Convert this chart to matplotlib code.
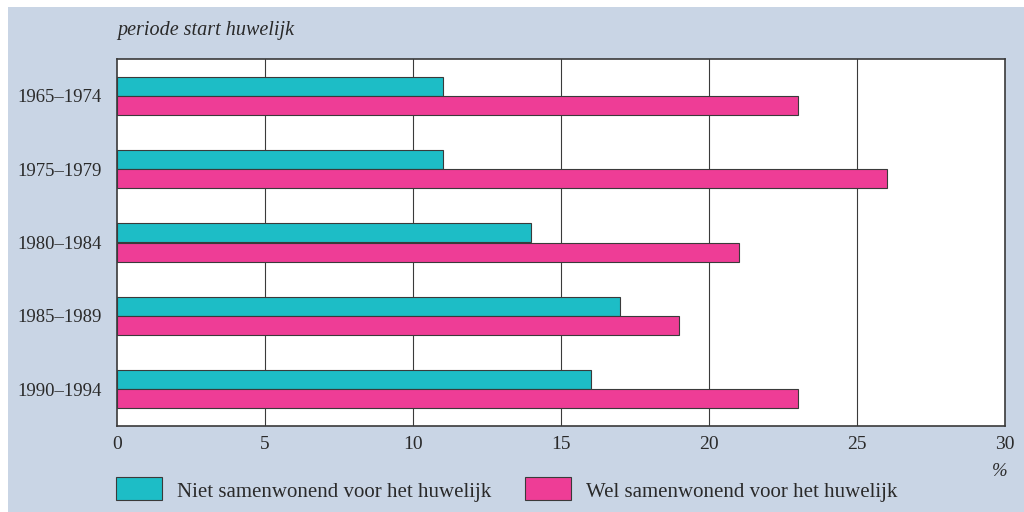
import matplotlib
matplotlib.use("Agg")
import matplotlib.pyplot as plt
from matplotlib.patches import Rectangle
import numpy as np

perioden = ["1965–1974", "1975–1979", "1980–1984", "1985–1989", "1990–1994"]
niet_samen = [11, 11, 14, 17, 16]
wel_samen = [23, 26, 21, 19, 23]
x_ticks = [0, 5, 10, 15, 20, 25, 30]

TEAL = "#1dbdc6"
PINK = "#ee3d96"
ACHTERGROND = "#c9d5e5"
LIJN = "#3a3a3a"
TEKST = "#2a2a2a"
FS = 14.5

plt.rcParams["font.family"] = ["Liberation Serif", "DejaVu Serif"]

fig = plt.figure(figsize=(10.24, 5.12), dpi=100, facecolor="white")
fig.patches.append(Rectangle((8 / 1024, 0), 1016 / 1024, 505 / 512,
                             transform=fig.transFigure, facecolor=ACHTERGROND,
                             edgecolor="none", zorder=-10))

ax = fig.add_axes([117 / 1024, 86 / 512, 888 / 1024, 367 / 512])
ax.set_facecolor("white")

y = np.arange(len(perioden))
h = 0.26
ax.barh(y - h / 2, niet_samen, height=h, color=TEAL, edgecolor=LIJN, linewidth=0.8, zorder=3)
ax.barh(y + h / 2, wel_samen, height=h, color=PINK, edgecolor=LIJN, linewidth=0.8, zorder=3)

ax.set_xlim(0, 30)
ax.set_ylim(4.5, -0.5)
ax.set_xticks(x_ticks)
ax.set_yticks(y)
ax.set_yticklabels(perioden)
ax.tick_params(axis="both", length=0, labelsize=FS - 0.5, colors=TEKST)
ax.tick_params(axis="y", labelsize=FS - 1, pad=11)
ax.tick_params(axis="x", pad=7)
for v in x_ticks[1:-1]:
    ax.axvline(v, color=LIJN, linewidth=0.8, zorder=1)
for s in ax.spines.values():
    s.set_color(LIJN)
    s.set_linewidth(1.2)

fig.text(117 / 1024, 1 - 31 / 512, "periode start huwelijk", fontsize=FS,
         style="italic", va="center", ha="left", color=TEKST)
fig.text(1008 / 1024, 1 - 471 / 512, "%", fontsize=FS - 1, style="italic",
         va="center", ha="right", color=TEKST)

# legenda onder de grafiek
leg_y = 1 - 500 / 512
leg_h = 23 / 512
fig.patches.append(Rectangle((116 / 1024, leg_y), 46 / 1024, leg_h, transform=fig.transFigure,
                             facecolor=TEAL, edgecolor=LIJN, linewidth=0.8))
fig.text(177 / 1024, 1 - 492 / 512, "Niet samenwonend voor het huwelijk", fontsize=FS + 0.5,
         va="center", ha="left", color=TEKST)
fig.patches.append(Rectangle((525 / 1024, leg_y), 46 / 1024, leg_h, transform=fig.transFigure,
                             facecolor=PINK, edgecolor=LIJN, linewidth=0.8))
fig.text(586 / 1024, 1 - 492 / 512, "Wel samenwonend voor het huwelijk", fontsize=FS + 0.5,
         va="center", ha="left", color=TEKST)

fig.savefig("out.png", dpi=100, facecolor=fig.get_facecolor())
